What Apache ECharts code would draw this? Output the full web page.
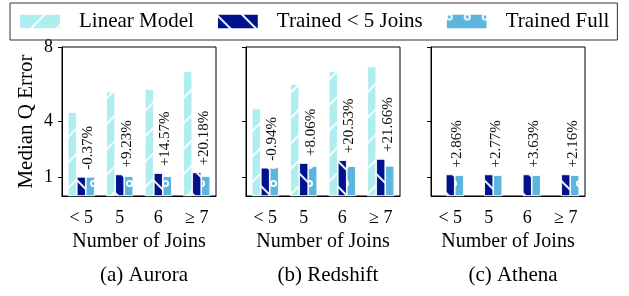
<!DOCTYPE html>
<html>
<head>
<meta charset="utf-8" />
<title>Median Q Error</title>
<script src="https://cdn.jsdelivr.net/npm/echarts@6/dist/echarts.min.js"></script>
<style>
  body { margin: 0; background: #fff; }
  #chart { width: 629px; height: 296px; }
</style>
</head>
<body>
<div id="chart"></div>
<script type="text/javascript">
// x轴
var categories = ['< 5', '5', '6', '≥ 7'];
var yTicks = [1, 4, 8];
var panelTitles = ['(a) Aurora', '(b) Redshift', '(c) Athena'];
// Aurora
var auroraLinear = [4.5, 5.6, 5.75, 6.7];
var auroraT5 = [1.03, 1.16, 1.23, 1.27];
var auroraFull = [1.03, 1.06, 1.06, 1.06];
var auroraGain = ['-0.37%', '+9.23%', '+14.57%', '+20.18%'];
// Redshift
var redshiftLinear = [4.7, 6.0, 6.7, 6.95];
var redshiftT5 = [1.52, 1.77, 1.92, 1.99];
var redshiftFull = [1.54, 1.61, 1.6, 1.62];
var redshiftGain = ['-0.94%', '+8.06%', '+20.53%', '+21.66%'];
// Athena (no linear model)
var athenaLinear = [null, null, null, null];
var athenaT5 = [1.16, 1.16, 1.16, 1.16];
var athenaFull = [1.12, 1.12, 1.12, 1.12];
var athenaGain = ['+2.86%', '+2.77%', '+3.63%', '+2.16%'];

var FONT = '"Liberation Serif", "DejaVu Serif", serif';
var gridLefts = [62, 246, 431];

// 填充图案
var linearDecal = {
	symbol: 'rect', dashArrayX: [1, 0], dashArrayY: [1.5, 16],
	rotation: -Math.PI / 4, color: 'rgba(255,255,255,0.9)'
};
var t5Decal = {
	symbol: 'rect', dashArrayX: [1, 0], dashArrayY: [1.5, 16],
	rotation: Math.PI / 4, color: 'rgba(255,255,255,0.95)'
};
var fullDecal = {
	symbol: 'path://M0,5a5,5 0 1,0 10,0a5,5 0 1,0 -10,0zM2.6,5a2.4,2.4 0 1,1 4.8,0a2.4,2.4 0 1,1 -4.8,0z',
	symbolSize: 1, dashArrayX: [[7, 11]], dashArrayY: [7, 11], color: '#fff'
};

var linearSets = [auroraLinear, redshiftLinear, athenaLinear];
var t5Sets = [auroraT5, redshiftT5, athenaT5];
var fullSets = [auroraFull, redshiftFull, athenaFull];
var gainSets = [auroraGain, redshiftGain, athenaGain];

var grids = [], xAxes = [], yAxes = [], series = [], titles = [];
for (var i = 0; i < 3; i++) {
	grids.push({ left: gridLefts[i], top: 47, width: 154, height: 149,
		show: true, borderColor: '#000', borderWidth: 1 });
	xAxes.push({
		type: 'category', gridIndex: i, data: categories,
		name: 'Number of Joins', nameLocation: 'middle', nameGap: 34,
		nameTextStyle: { fontFamily: FONT, fontSize: 20, color: '#000' },
		axisLine: { lineStyle: { color: '#000', width: 1 } },
		axisTick: { alignWithLabel: true, length: 4, lineStyle: { color: '#000' } },
		axisLabel: { fontFamily: FONT, fontSize: 18, color: '#000', margin: 13, interval: 0 }
	});
	yAxes.push({
		type: 'value', gridIndex: i, min: 0, max: 8,
		name: i === 0 ? 'Median Q Error' : '', nameLocation: 'middle', nameGap: 25,
		nameTextStyle: { fontFamily: FONT, fontSize: 21, color: '#000' },
		splitLine: { show: false },
		axisLine: { show: true, lineStyle: { color: '#000', width: 1 } },
		axisTick: { show: true, length: 4, customValues: yTicks, lineStyle: { color: '#000' } },
		axisLabel: { show: i === 0, customValues: yTicks, fontFamily: FONT, fontSize: 18, color: '#000', margin: 9 }
	});
	titles.push({ text: panelTitles[i], left: gridLefts[i] + 77, top: 260, textAlign: 'center',
		textStyle: { fontFamily: FONT, fontSize: 21, fontWeight: 'normal', color: '#000' } });

	var gains = gainSets[i];
	series.push({
		name: 'Linear Model', type: 'bar', xAxisIndex: i, yAxisIndex: i,
		data: linearSets[i], barWidth: 9, barGap: '0%',
		itemStyle: { color: '#afeeee', borderColor: '#fff', borderWidth: 0.6, decal: linearDecal }
	});
	series.push({
		name: 'Trained < 5 Joins', type: 'bar', xAxisIndex: i, yAxisIndex: i,
		data: t5Sets[i], barWidth: 9, barGap: '0%',
		itemStyle: { color: '#00138c', borderColor: '#fff', borderWidth: 0.6, decal: t5Decal },
		label: {
			show: true, position: 'top', distance: 7, rotate: 90,
			align: 'left', verticalAlign: 'middle', offset: [0, 7],
			fontFamily: FONT, fontSize: 15, color: '#111',
			formatter: (function (g) { return function (p) { return g[p.dataIndex]; }; })(gains)
		}
	});
	series.push({
		name: 'Trained Full', type: 'bar', xAxisIndex: i, yAxisIndex: i,
		data: fullSets[i], barWidth: 9, barGap: '0%',
		itemStyle: { color: '#5bb5dd', borderColor: '#fff', borderWidth: 0.6, decal: fullDecal }
	});
}

var myChart = echarts.init(document.getElementById('chart'));
myChart.setOption({
	animation: false,
	title: titles,
	legend: {
		left: 10, top: 3, itemWidth: 42, itemHeight: 16, itemGap: 22,
		padding: [8, 8, 8, 8], borderColor: '#333', borderWidth: 1, borderRadius: 0,
		icon: 'rect',
		textStyle: { fontFamily: FONT, fontSize: 21, color: '#000', padding: [0, 0, 0, 13] },
		data: ['Linear Model', 'Trained < 5 Joins', 'Trained Full']
	},
	grid: grids,
	xAxis: xAxes,
	yAxis: yAxes,
	series: series
});
</script>
</body>
</html>
